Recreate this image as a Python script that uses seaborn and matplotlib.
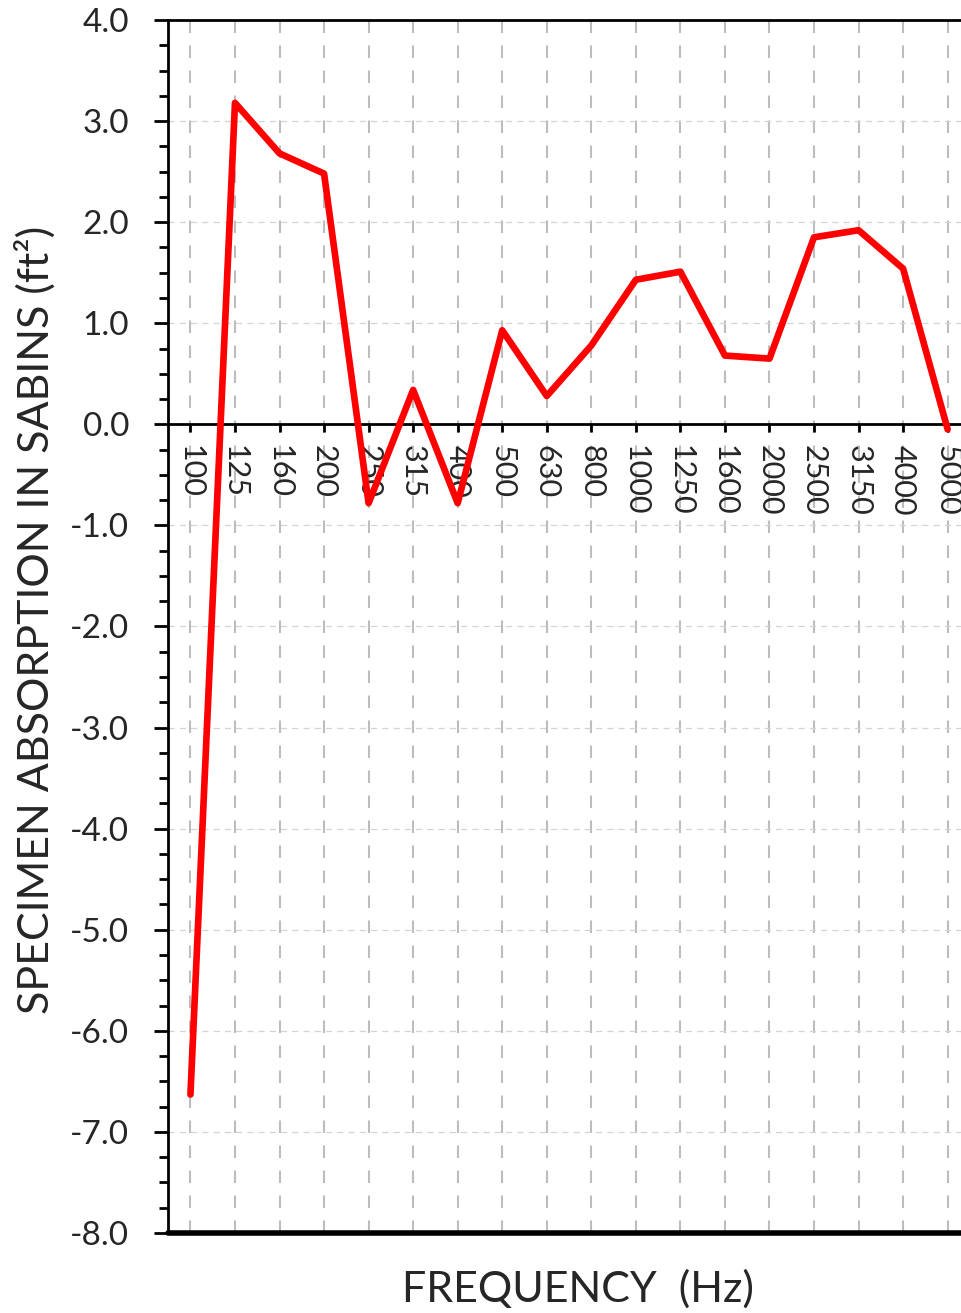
import numpy as np
import pandas as pd
import matplotlib
matplotlib.use('Agg')
import matplotlib.pyplot as plt
from matplotlib.ticker import MultipleLocator, FixedLocator
import seaborn as sns

# one-third octave bands and measured absorption
freq_labels = ['100', '125', '160', '200', '250', '315', '400', '500', '630',
               '800', '1000', '1250', '1600', '2000', '2500', '3150', '4000', '5000']
sabins = [-6.63, 3.18, 2.68, 2.48, -0.78, 0.34, -0.78, 0.93, 0.28,
          0.78, 1.43, 1.51, 0.68, 0.65, 1.85, 1.92, 1.54, -0.05]

df = pd.DataFrame({'band': np.arange(len(freq_labels)), 'sabins': sabins})

sns.set_style('white')
plt.rcParams['font.family'] = ['Lato', 'DejaVu Sans']

fig = plt.figure(figsize=(9.61, 13.13), dpi=100)
ax = fig.add_axes([0.175, 0.0609, 0.825, 0.9239])

# grid
for i in range(len(freq_labels)):
    ax.axvline(i, color='#bdbdbd', lw=1.5, ls=(0, (6, 6)), zorder=0)
for yv in np.arange(-7, 4, 1.0):
    ax.axhline(yv, color='#d4d4d4', lw=0.9, ls=(0, (5, 4)), zorder=0)

sns.lineplot(data=df, x='band', y='sabins', color='#ff0000', lw=4.8, ax=ax,
             zorder=3)

ax.set_xlim(-0.5, 17.3)
ax.set_ylim(-8, 4)

# x axis sits on zero
ax.spines['bottom'].set_position(('data', 0))
ax.spines['right'].set_visible(False)
for s in ['left', 'top', 'bottom']:
    ax.spines[s].set_color('black')
    ax.spines[s].set_linewidth(2.0)
ax.axhline(-8, color='black', lw=4.0, clip_on=False, zorder=4)

ax.xaxis.set_major_locator(FixedLocator(df['band']))
ax.set_xticklabels(freq_labels, rotation=270, fontsize=22)
ax.tick_params(axis='x', direction='out', length=6, width=2.0, pad=9,
               bottom=True, color='black')
for lab in ax.get_xticklabels():
    lab.set_va('top')
    lab.set_ha('center')

ax.yaxis.set_major_locator(MultipleLocator(1.0))
ax.yaxis.set_minor_locator(MultipleLocator(0.25))
ax.set_yticks(np.arange(-8, 4.1, 1.0))
ax.set_yticklabels([f'{v:.1f}' for v in np.arange(-8, 4.1, 1.0)], fontsize=24)
ax.tick_params(axis='y', which='major', direction='out', length=10, width=2.0,
               pad=18, left=True, color='black')
ax.tick_params(axis='y', which='minor', direction='out', length=6.5, width=2.0,
               left=True, color='black')

ax.set_xlabel('')
ax.set_ylabel('')
fig.text(0.037, 0.528, 'SPECIMEN ABSORPTION IN SABINS (ft²)', rotation=90,
         ha='center', va='center', fontsize=31)
fig.text(0.601, 0.018, 'FREQUENCY  (Hz)', ha='center', va='center', fontsize=31)

fig.savefig('out.png', dpi=100)
